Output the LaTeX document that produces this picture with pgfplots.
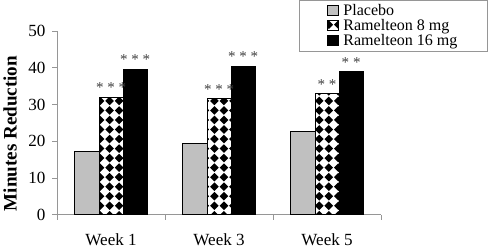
\documentclass[border=0pt]{standalone}
\usepackage{pgfplots}
\pgfplotsset{compat=1.18}
\usepackage{fontspec}
\setmainfont{Liberation Serif}
\usetikzlibrary{patterns}
\pgfdeclarepatternformonly{diamondgrid}{\pgfqpoint{-1pt}{-1pt}}{\pgfqpoint{10.5pt}{10.5pt}}{\pgfqpoint{9.5pt}{9.5pt}}{%
  \pgfpathmoveto{\pgfqpoint{4.75pt}{0.45pt}}%
  \pgfpathlineto{\pgfqpoint{9.05pt}{4.75pt}}%
  \pgfpathlineto{\pgfqpoint{4.75pt}{9.05pt}}%
  \pgfpathlineto{\pgfqpoint{0.45pt}{4.75pt}}%
  \pgfpathclose
  \pgfusepath{fill}%
}
\definecolor{plac}{RGB}{192,192,192}
\definecolor{axgray}{RGB}{150,150,150}
\begin{document}
\begin{tikzpicture}
\begin{axis}[
  scale only axis, width=323pt, height=183pt,
  ybar=0pt, bar width=24pt,
  xmin=0, xmax=3, ymin=0, ymax=50,
  xtick={0,1,2,3}, xticklabels={Week 1,Week 3,Week 5},
  x tick label as interval,
  ytick={0,10,20,30,40,50},
  axis x line*=bottom, axis y line*=left,
  axis line style={axgray, line width=0.9pt},
  tick style={axgray, line width=0.9pt},
  tick align=outside, major tick length=5pt,
  /pgf/number format/assume math mode=true,
  tick label style={font=\fontsize{17}{19}\selectfont},
  yticklabel style={xshift=-3pt},
  xticklabel style={inner ysep=2.5pt, yshift=-11.5pt},
  every axis y label/.style={at={(axis description cs:-0.145,0.443)}, rotate=90, anchor=center},
  ylabel={\fontsize{19}{21}\selectfont\bfseries Minutes Reduction},
  legend style={at={(1.33,1.17)}, anchor=north east, draw=axgray, line width=0.8pt,
    font=\fontsize{16}{17}\selectfont, inner xsep=28pt, inner ysep=2pt, row sep=-1.5pt,
    legend cell align=left},
  legend image code/.code={\draw[#1, line width=0.7pt] (0pt,-4.5pt) rectangle (10pt,5.5pt); \path (13pt,0pt);},
  point meta=explicit symbolic,
  nodes near coords style={font=\fontsize{15}{15}\selectfont, text=black!75, inner sep=0pt, anchor=south, yshift=4pt},
]
\addplot[draw=black, line width=1pt, fill=plac] coordinates {(0.5,17.2) (1.5,19.5) (2.5,22.8)};
\addplot[draw=black, line width=1pt, pattern=diamondgrid, pattern color=black, nodes near coords] coordinates {(0.5,32.0) [* * *] (1.5,31.6) [* * *] (2.5,32.9) [* *]};
\addplot[draw=black, line width=1pt, fill=black, nodes near coords] coordinates {(0.5,39.7) [* * *] (1.5,40.5) [* * *] (2.5,38.9) [* *]};
\legend{Placebo, Ramelteon 8 mg, Ramelteon 16 mg}
\end{axis}
\end{tikzpicture}
\end{document}
